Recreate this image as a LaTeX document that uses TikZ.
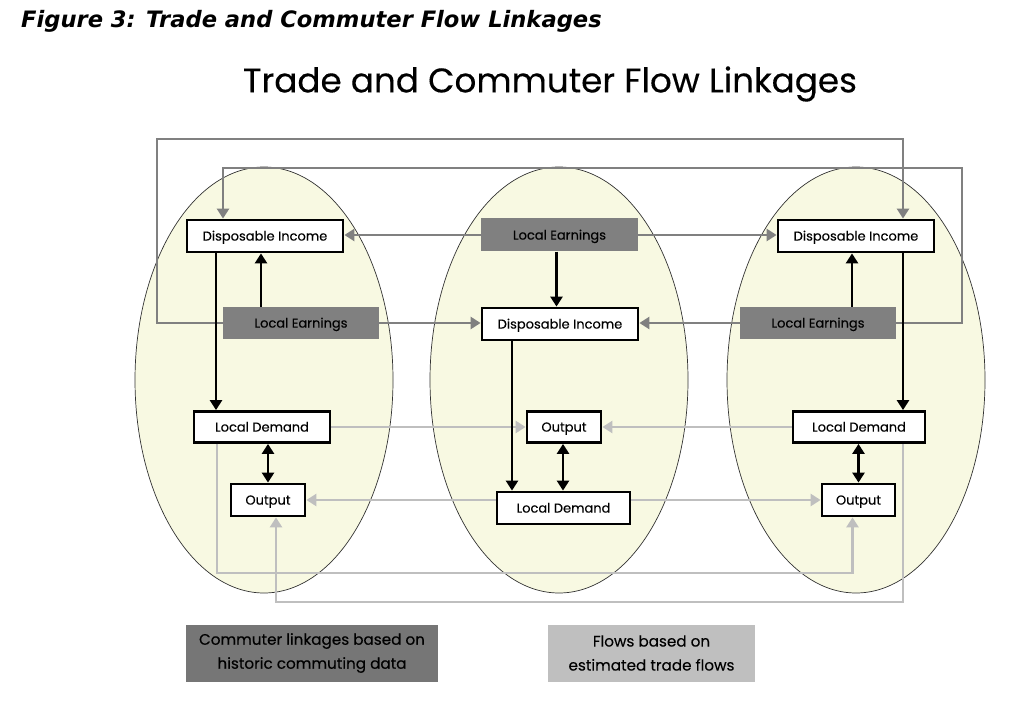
\documentclass[tikz,border=0pt]{standalone}
\usepackage{fontspec}
\setmainfont{Poppins}[FakeBold=0.25]
\newfontfamily\capfont{DejaVu Sans}
\usetikzlibrary{arrows.meta}
\definecolor{ellfill}{HTML}{F8F9E2}
\definecolor{commgray}{HTML}{808080}
\definecolor{tradegray}{HTML}{BFBFBF}
\definecolor{legdark}{HTML}{767676}
\begin{document}
\begin{tikzpicture}[x=1pt,y=-1pt,
  region/.style={draw=black!80,line width=0.7pt,fill=ellfill},
  wbox/.style={draw=black,line width=2.8pt,fill=white,inner sep=0pt,text height=9.2pt,text depth=0pt,font=\fontsize{13}{15}\selectfont},
  gbox/.style={fill=commgray,inner sep=0pt,text height=9.2pt,text depth=0pt,font=\fontsize{13}{15}\selectfont},
  tip/.style={-{Triangle[width=12pt,length=10pt]}},
  blk/.style={draw=black,line width=2.8pt,tip},
  dbl/.style={draw=black,line width=2.8pt,{Triangle[width=12pt,length=10pt]}-{Triangle[width=12pt,length=10pt]}},
  comm/.style={draw=commgray,line width=2.8pt,tip},
  trade/.style={draw=tradegray,line width=2.8pt,tip},
  legend/.style={inner sep=0pt,align=center,font=\fontsize{15.2}{24}\selectfont}]
\useasboundingbox (0,0) rectangle (1024,708);
% titles
\node[anchor=west,inner sep=0pt,font=\capfont\bfseries\itshape\fontsize{22.6}{26}\selectfont] (cap) at (21,21) {Figure 3: Trade and Commuter Flow Linkages};
\node[inner sep=0pt,font=\fontsize{34.2}{40}\selectfont] (title) at (550,84) {Trade and Commuter Flow Linkages};
% regions
\path[region] (264,380) ellipse [x radius=129,y radius=213];
\path[region] (559,380) ellipse [x radius=129,y radius=213];
\path[region] (856,380) ellipse [x radius=129,y radius=213];
% boxes
\node[wbox,minimum width=156,minimum height=32] (diL) at (265,236) {Disposable Income};
\node[gbox,minimum width=156,minimum height=32] (leL) at (301,323) {Local Earnings};
\node[gbox,minimum width=157,minimum height=33] (leM) at (559.5,235) {Local Earnings};
\node[wbox,minimum width=156,minimum height=32] (diM) at (560,324) {Disposable Income};
\node[wbox,minimum width=156,minimum height=32] (diR) at (856,236) {Disposable Income};
\node[gbox,minimum width=156,minimum height=32] (leR) at (818,323) {Local Earnings};
\node[wbox,minimum width=136,minimum height=31] (ldL) at (262,427) {Local Demand};
\node[wbox,minimum width=74,minimum height=32] (outL) at (268,500) {Output};
\node[wbox,minimum width=74,minimum height=31] (outM) at (564,427) {Output};
\node[wbox,minimum width=133,minimum height=32] (ldM) at (563.5,508) {Local Demand};
\node[wbox,minimum width=132,minimum height=31] (ldR) at (859,427) {Local Demand};
\node[wbox,minimum width=73,minimum height=32] (outR) at (858.5,500) {Output};
% legend
\node[legend,fill=legdark,minimum width=252,minimum height=57] (legA) at (312,653) {Commuter linkages based on\\historic commuting data};
\node[legend,fill=tradegray,minimum width=207,minimum height=57] (legB) at (651.5,653) {Flows based on\\estimated trade flows};
% connectors: commuter
\draw[comm] (leL.west) -| (157,139) -| ([xshift=47]diR.north);
\draw[comm] (leR.east) -| (962,168) -| ([xshift=-42]diL.north);
\draw[comm] (leM.west) -- (leM.west -| diL.east);
\draw[comm] (leM.east) -- (leM.east -| diR.west);
\draw[comm] (leL.east) -- (leL.east -| diM.west);
\draw[comm] (leR.west) -- (leR.west -| diM.east);
% connectors: trade
\draw[trade] (ldL.east) -- (ldL.east -| outM.west);
\draw[trade] (ldR.west) -- (ldR.west -| outM.east);
\draw[trade] (ldM.west |- outL.east) -- (outL.east);
\draw[trade] (ldM.east |- outR.west) -- (outR.west);
\draw[trade] ([xshift=-45]ldL.south) -- ++(0,129) -| ([xshift=-6]outR.south);
\draw[trade] ([xshift=44]ldR.south) -- ++(0,158) -| ([xshift=8]outL.south);
% connectors: local
\draw[blk] ([xshift=-40]leL.north) -- ([xshift=-40]leL.north |- diL.south);
\draw[blk] ([xshift=-49]diL.south) -- ([xshift=-49]diL.south |- ldL.north);
\draw[dbl] (outL.north) -- (outL.north |- ldL.south);
\draw[blk] ([xshift=-3]leM.south) -- ([xshift=-3]leM.south |- diM.north);
\draw[blk] ([xshift=-48]diM.south) -- ([xshift=-48]diM.south |- ldM.north);
\draw[dbl] ([xshift=-1]outM.south) -- ([xshift=-1]outM.south |- ldM.north);
\draw[blk] ([xshift=34]leR.north) -- ([xshift=34]leR.north |- diR.south);
\draw[blk] ([xshift=47]diR.south) -- ([xshift=47]diR.south |- ldR.north);
\draw[dbl] (outR.north) -- (outR.north |- ldR.south);
% middle Local Demand drawn again so the trade line passes behind it
\node[wbox,minimum width=133,minimum height=32] (ldMtop) at (ldM.center) {Local Demand};
\end{tikzpicture}
\end{document}
